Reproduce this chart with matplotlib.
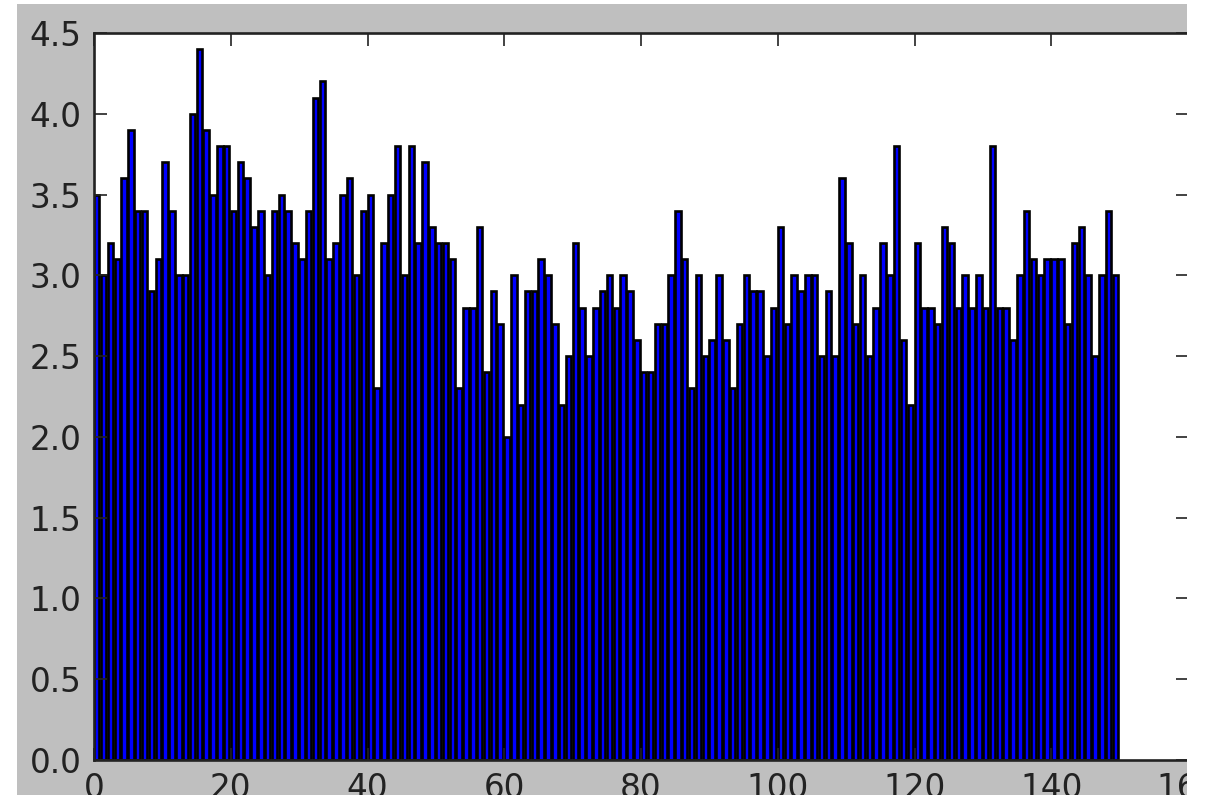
import matplotlib
matplotlib.use("Agg")
import matplotlib.pyplot as plt
from matplotlib.patches import Rectangle

# sepal width values, one bar per sample
values = [3.5, 3.0, 3.2, 3.1, 3.6, 3.9, 3.4, 3.4, 2.9, 3.1, 3.7, 3.4, 3.0, 3.0, 4.0, 4.4, 3.9, 3.5, 3.8, 3.8,
          3.4, 3.7, 3.6, 3.3, 3.4, 3.0, 3.4, 3.5, 3.4, 3.2, 3.1, 3.4, 4.1, 4.2, 3.1, 3.2, 3.5, 3.6, 3.0, 3.4,
          3.5, 2.3, 3.2, 3.5, 3.8, 3.0, 3.8, 3.2, 3.7, 3.3, 3.2, 3.2, 3.1, 2.3, 2.8, 2.8, 3.3, 2.4, 2.9, 2.7,
          2.0, 3.0, 2.2, 2.9, 2.9, 3.1, 3.0, 2.7, 2.2, 2.5, 3.2, 2.8, 2.5, 2.8, 2.9, 3.0, 2.8, 3.0, 2.9, 2.6,
          2.4, 2.4, 2.7, 2.7, 3.0, 3.4, 3.1, 2.3, 3.0, 2.5, 2.6, 3.0, 2.6, 2.3, 2.7, 3.0, 2.9, 2.9, 2.5, 2.8,
          3.3, 2.7, 3.0, 2.9, 3.0, 3.0, 2.5, 2.9, 2.5, 3.6, 3.2, 2.7, 3.0, 2.5, 2.8, 3.2, 3.0, 3.8, 2.6, 2.2,
          3.2, 2.8, 2.8, 2.7, 3.3, 3.2, 2.8, 3.0, 2.8, 3.0, 2.8, 3.8, 2.8, 2.8, 2.6, 3.0, 3.4, 3.1, 3.0, 3.1,
          3.1, 3.1, 2.7, 3.2, 3.3, 3.0, 2.5, 3.0, 3.4, 3.0]
positions = list(range(len(values)))
yticks = [0.0, 0.5, 1.0, 1.5, 2.0, 2.5, 3.0, 3.5, 4.0, 4.5]
xticks = [0, 20, 40, 60, 80, 100, 120, 140, 160]

W, H = 1210, 795
fig = plt.figure(figsize=(W / 100, H / 100), dpi=100, facecolor='#bfbfbf')
ax = fig.add_axes([94 / W, 1 - 760 / H, (1188 - 94) / W, (760 - 33) / H])

ax.bar(positions, values, width=0.8, align='edge', color='#0000ff',
       edgecolor='black', linewidth=1.9)

ax.set_xlim(0, 160)
ax.set_ylim(0, 4.5)
ax.set_xticks(xticks)
ax.set_yticks(yticks)
ax.set_yticklabels(["%.1f" % t for t in yticks])
ax.tick_params(direction='in', length=9, width=1.2, pad=9, labelsize=23.5,
               top=True, right=True, colors='#222222', labelcolor='#222222')
for s in ax.spines.values():
    s.set_linewidth(1.9)
    s.set_color('#222222')

# white border around the cropped screenshot
for x0, y0, w, h in [(0, 0, 17, H), (0, 0, W, 4), (1186.5, 0, W - 1186.5, H)]:
    fig.add_artist(Rectangle((x0 / W, 1 - (y0 + h) / H), w / W, h / H,
                             transform=fig.transFigure, facecolor='white',
                             edgecolor='none', zorder=10))

fig.savefig("out.png", dpi=100, facecolor=fig.get_facecolor())
